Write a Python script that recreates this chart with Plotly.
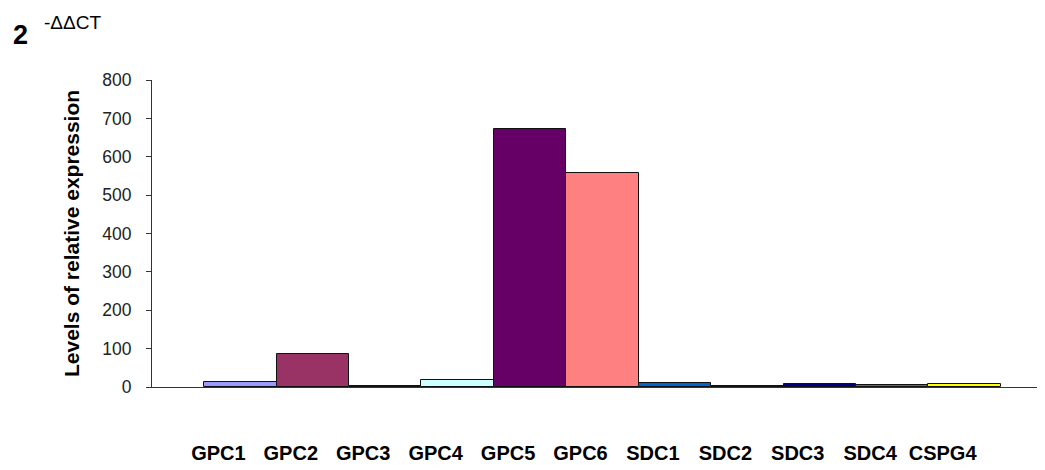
import plotly.graph_objects as go

genes = ["GPC1", "GPC2", "GPC3", "GPC4", "GPC5", "GPC6",
         "SDC1", "SDC2", "SDC3", "SDC4", "CSPG4"]
expression = [14, 85, 2, 17, 673, 557, 11, 2, 8, 6, 7]
bar_colors = ["#9999FF", "#993366", "#FFFFCC", "#CCFFFF", "#660066", "#FF8080",
              "#0066CC", "#CCCCFF", "#000080", "#FF00FF", "#FFFF00"]
y_ticks = [0, 100, 200, 300, 400, 500, 600, 700, 800]

fig = go.Figure(go.Bar(
    x=genes, y=expression,
    marker=dict(color=bar_colors, line=dict(color="#111111", width=1)),
    width=1.0,
))

fig.update_layout(
    width=1037, height=462,
    margin=dict(l=144, r=0, t=72, b=83, autoexpand=False),
    paper_bgcolor="white", plot_bgcolor="white",
    showlegend=False, bargap=0,
    font=dict(family="Liberation Sans, Arial, sans-serif", color="#000000"),
)

fig.update_xaxes(
    type="category",
    range=[-1.22, 11.11],
    automargin=False,
    showline=True, linecolor="#333333", linewidth=1,
    ticks="", showgrid=False, zeroline=False,
    tickfont=dict(size=20, color="#000000", family="Liberation Sans, Arial, sans-serif"),
    ticklabelstandoff=48,
    ticklabelshift=-22,
    tickprefix="<b>", ticksuffix="</b>",
)

fig.update_yaxes(
    range=[0, 800],
    automargin=False,
    tickvals=y_ticks,
    showline=True, linecolor="#333333", linewidth=1,
    ticks="outside", ticklen=5, tickcolor="#333333",
    showgrid=False, zeroline=False,
    tickfont=dict(size=17.5, color="#222222"),
    ticklabelstandoff=11,
    title=dict(text="<b>Levels of relative expression</b>",
               font=dict(size=21, color="#000000"), standoff=16),
)

fig.add_annotation(text="<b>2</b>", xref="paper", yref="paper",
                   x=-141/893, y=1 + 45/307, xanchor="left", yanchor="middle",
                   showarrow=False, font=dict(size=27, color="#000000"))
fig.add_annotation(text="-ΔΔCT", xref="paper", yref="paper",
                   x=-110/893, y=1 + 57.5/307, xanchor="left", yanchor="middle",
                   showarrow=False, font=dict(size=19, color="#000000"))

fig.write_html("out.html")
